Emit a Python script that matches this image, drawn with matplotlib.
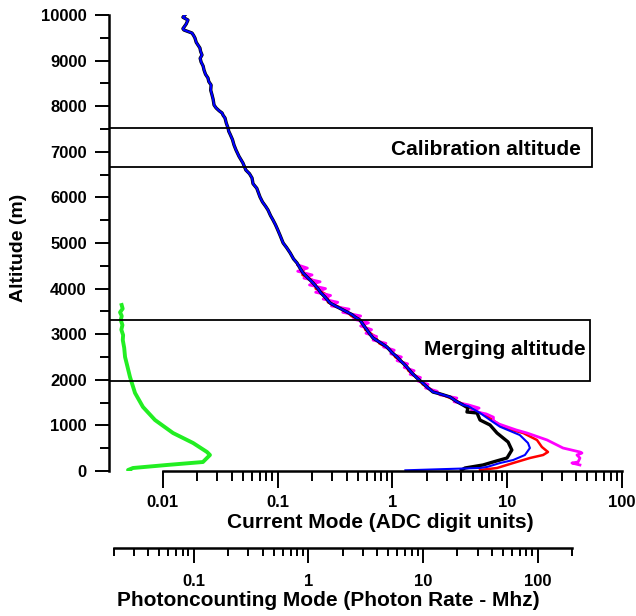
import matplotlib
matplotlib.use("Agg")
import matplotlib.pyplot as plt
from matplotlib.patches import Rectangle
from matplotlib.ticker import FixedLocator, FuncFormatter, NullFormatter

plt.rcParams["font.family"] = ["Liberation Sans", "DejaVu Sans"]
plt.rcParams["font.weight"] = "bold"

# Upper part of the profile (common to all current-mode channels)
alt_main = [10000, 9950, 9890, 9800, 9700, 9671, 9605, 9550, 9495, 9400, 9276,
            9200, 9123, 9050, 8969, 8880, 8794, 8700, 8618, 8540, 8465, 8350,
            8246, 8150, 8026, 7961, 7900, 7851, 7800, 7741, 7630, 7522, 7450,
            7390, 7270, 7149, 7039, 6900, 6754, 6600, 6520, 6425, 6300, 6200,
            6009, 5900, 5800, 5724, 5600, 5504, 5400, 5300, 5175, 5000, 4900,
            4781, 4650, 4561, 4450, 4342, 4230, 4123, 4000, 3900, 3816, 3684,
            3600, 3520, 3487, 3430, 3377, 3311, 3200, 3092, 3000, 2917, 2820,
            2719, 2600, 2500, 2400, 2281, 2150, 2039, 1950, 1842, 1732, 1680,
            1623, 1530, 1447]
cur_main = [0.0156, 0.0150, 0.0166, 0.0160, 0.0150, 0.0153, 0.0180, 0.0186,
            0.0191, 0.0196, 0.0211, 0.0214, 0.0220, 0.0212, 0.0216, 0.0225,
            0.0229, 0.0236, 0.0248, 0.0252, 0.0264, 0.0262, 0.0269, 0.0275,
            0.0280, 0.0292, 0.0310, 0.0329, 0.0336, 0.0349, 0.0358, 0.0371,
            0.0376, 0.0386, 0.0405, 0.0418, 0.0435, 0.0462, 0.0500, 0.0530,
            0.0570, 0.0600, 0.0612, 0.0660, 0.0704, 0.0740, 0.0790, 0.0826,
            0.0870, 0.0914, 0.0960, 0.1000, 0.105, 0.112, 0.120, 0.129, 0.138,
            0.148, 0.157, 0.167, 0.185, 0.204, 0.225, 0.240, 0.259, 0.287,
            0.330, 0.380, 0.403, 0.445, 0.473, 0.523, 0.560, 0.602, 0.640,
            0.679, 0.780, 0.899, 0.990, 1.10, 1.20, 1.34, 1.48, 1.64, 1.80,
            2.01, 2.26, 2.70, 3.18, 3.60, 4.13]

# Lower tails
alt_black = [1382, 1294, 1272, 1118, 1009, 833, 636, 460, 285, 197, 132, 66, 20]
cur_black = [4.56, 4.47, 5.47, 5.81, 7.10, 8.17, 10.2, 11.0, 9.98, 7.53, 6.17,
             4.30, 4.0]

alt_blue = [1425, 1272, 1075, 971, 789, 614, 504, 351, 241, 175, 88, 66, 15]
cur_blue = [4.56, 5.81, 7.53, 8.67, 12.9, 15.2, 15.8, 14.3, 11.3, 8.68, 6.67,
            5.81, 1.3]

alt_red = [4450, 4300, 4150, 4000, 3850, 3700, 3550, 3400, 3250, 3100, 2950,
           2800, 2650, 2500, 2350, 2200, 2050, 1900, 1750, 1600, 1450, 1330,
           1228, 1009, 899, 833, 680, 526, 417, 351, 285, 175, 66, 22]
cur_red = [0.170, 0.165, 0.215, 0.215, 0.275, 0.275, 0.38, 0.44, 0.57, 0.58,
           0.71, 0.77, 0.98, 1.06, 1.29, 1.38, 1.68, 1.84, 2.30, 3.20, 4.25,
           5.2, 6.42, 8.68, 11.0, 13.8, 18.2, 20.1, 22.7, 20.6, 15.8, 11.3,
           8.17, 5.81]

alt_mag = [4520, 4450, 4380, 4300, 4230, 4150, 4080, 4000, 3920, 3850, 3770,
           3700, 3620, 3550, 3480, 3400, 3330, 3250, 3180, 3100, 3020, 2950,
           2870, 2800, 2720, 2650, 2570, 2500, 2420, 2350, 2270, 2200, 2120,
           2050, 1970, 1900, 1820, 1750, 1670, 1600, 1520, 1450, 1380, 1320,
           1250, 1180, 1100, 1030, 950, 900, 833, 680, 504, 417, 395, 351, 285,
           197, 175, 132]
cur_mag = [0.150, 0.182, 0.150, 0.200, 0.170, 0.235, 0.190, 0.262, 0.215,
           0.290, 0.250, 0.335, 0.295, 0.42, 0.37, 0.53, 0.46, 0.62, 0.53,
           0.66, 0.59, 0.73, 0.68, 0.88, 0.84, 1.04, 0.97, 1.20, 1.10, 1.36,
           1.27, 1.55, 1.43, 1.76, 1.68, 2.05, 1.95, 2.45, 2.60, 3.65, 3.45,
           4.60, 5.70, 4.90, 6.60, 7.60, 7.60, 8.50, 10.5, 12.0, 14.9, 22.3,
           30.7, 43.1, 44.9, 40.6, 43.1, 41.5, 36.7, 43.1]

# Photon counting profile
alt_green = [3640, 3560, 3480, 3400, 3311, 3200, 3100, 2980, 2873, 2700, 2500,
             2300, 2061, 1711, 1404, 1118, 833, 614, 417, 351, 197, 132, 66,
             22, 10]
cur_green = [0.00439, 0.00448, 0.00425, 0.00440, 0.00431, 0.00446, 0.00436,
             0.00452, 0.00449, 0.00462, 0.00470, 0.00492, 0.00519, 0.00574,
             0.00673, 0.00857, 0.0123, 0.0184, 0.0243, 0.0258, 0.0224, 0.0109,
             0.00551, 0.00499, 0.0052]

cal_range = (6670, 7520)
merge_range = (1975, 3310)

fig = plt.figure(figsize=(6.36, 6.16), dpi=100)
W, H = 636.0, 616.0

# main axes: y axis at x=109 px, 0 m at y=471 px, 10000 m at y=15 px
ax = fig.add_axes([109 / W, (H - 471) / H, (W - 109) / W, 456 / H])
ax.set_xscale("log")
px_per_dec = 114.8
x_lo = 10 ** ((109 - 392.3) / px_per_dec)
x_hi = 10 ** ((636 - 392.3) / px_per_dec)
ax.set_xlim(x_lo, x_hi)
ax.set_ylim(0, 10000)

ax.plot(cur_red, alt_red, color="#ff0000", lw=1.8)
ax.plot(cur_mag, alt_mag, color="#ff00ff", lw=2.0)
ax.plot(cur_main + cur_black, alt_main + alt_black, color="black", lw=2.4)
ax.plot(cur_main + cur_blue, alt_main + alt_blue, color="#0000ff", lw=1.5)
ax.plot(cur_green, alt_green, color="#22ee22", lw=2.8)

# calibration and merging boxes
for (y0, y1), xr in [(cal_range, 54.9), (merge_range, 52.7)]:
    ax.add_patch(Rectangle((x_lo, y0), xr - x_lo, y1 - y0, fill=False,
                           lw=1.3, ec="black", zorder=3))
ax.text(6.55, 7060, "Calibration altitude", fontsize=15, fontweight="bold",
        ha="center", va="center")
ax.text(9.57, 2660, "Merging altitude", fontsize=15, fontweight="bold",
        ha="center", va="center")

for s in ["top", "right"]:
    ax.spines[s].set_visible(False)
ax.spines["left"].set_linewidth(1.8)
ax.spines["bottom"].set_linewidth(1.8)
ax.spines["bottom"].set_bounds(0.01, 100)

ax.xaxis.set_major_locator(FixedLocator([0.01, 0.1, 1, 10, 100]))
minors = [m * 10 ** e for e in range(-2, 2) for m in range(2, 10)]
ax.xaxis.set_minor_locator(FixedLocator(minors))
ax.xaxis.set_major_formatter(FuncFormatter(lambda v, p: "%g" % v))
ax.xaxis.set_minor_formatter(NullFormatter())
ax.yaxis.set_major_locator(FixedLocator(range(0, 10001, 1000)))
ax.yaxis.set_minor_locator(FixedLocator(range(500, 10000, 1000)))
ax.tick_params(axis="x", which="major", length=12, width=1.4, pad=5,
               labelsize=12)
ax.tick_params(axis="x", which="minor", length=7, width=1.4)
ax.tick_params(axis="y", which="major", length=10, width=1.4, pad=6,
               labelsize=12)
ax.tick_params(axis="y", which="minor", length=6.5, width=1.4)
for lab in ax.get_xticklabels() + ax.get_yticklabels():
    lab.set_fontweight("bold")

ax.set_ylabel("Altitude (m)", fontsize=14, fontweight="bold")
ax.yaxis.set_label_coords(-0.155, 0.49)
ax.set_xlabel("Current Mode (ADC digit units)", fontsize=15,
              fontweight="bold")
ax.xaxis.set_label_coords(0.514, -0.092)

# second scale: photon counting mode
ax2 = fig.add_axes([113.6 / W, (H - 548) / H, (572 - 113.6) / W, 0.0001])
ax2.set_xscale("log")
ax2.set_xlim(0.02, 200)
for s in ["top", "right", "left"]:
    ax2.spines[s].set_visible(False)
ax2.spines["bottom"].set_linewidth(1.8)
ax2.set_yticks([])
ax2.xaxis.set_major_locator(FixedLocator([0.1, 1, 10, 100]))
minors2 = [m * 10 ** e for e in range(-2, 3) for m in range(2, 10)
           if 0.02 <= m * 10 ** e <= 200]
ax2.xaxis.set_minor_locator(FixedLocator(minors2))
ax2.xaxis.set_major_formatter(FuncFormatter(lambda v, p: "%g" % v))
ax2.xaxis.set_minor_formatter(NullFormatter())
ax2.tick_params(axis="x", which="major", length=11, width=1.4, pad=8,
                labelsize=12)
ax2.tick_params(axis="x", which="minor", length=6, width=1.4)
for lab in ax2.get_xticklabels():
    lab.set_fontweight("bold")
fig.text(328 / W, 1 - 601 / H, "Photoncounting Mode (Photon Rate - Mhz)",
         fontsize=15, fontweight="bold", ha="center", va="center")

fig.savefig("out.png", dpi=100)
